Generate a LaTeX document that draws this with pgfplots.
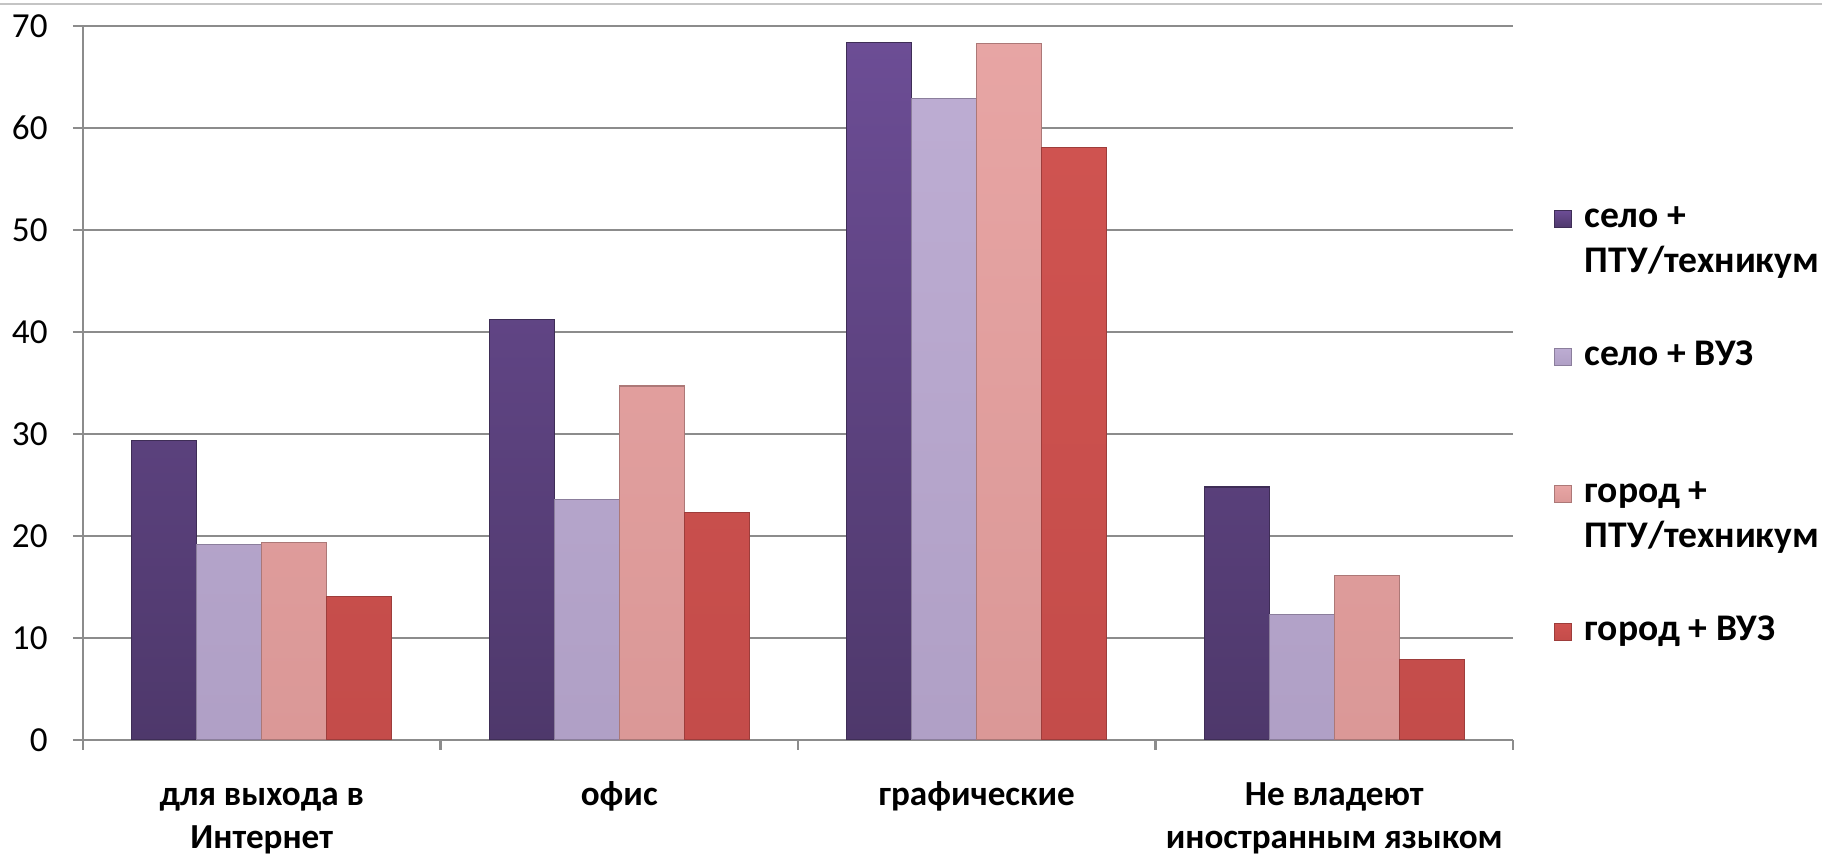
\documentclass[border=0pt]{standalone}
\usepackage{fontspec}
\setmainfont{Carlito}
\usepackage{pgfplots}
\pgfplotsset{compat=1.18}

\definecolor{pa}{HTML}{654A8C}
\definecolor{paT}{HTML}{6C4D95}
\definecolor{paB}{HTML}{4E386B}
\definecolor{pb}{HTML}{B9A8D0}
\definecolor{pc}{HTML}{E6A09F}
\definecolor{pd}{HTML}{CF5350}
\definecolor{pdB}{HTML}{C44C4A}
\definecolor{gridgray}{HTML}{8C8C8C}
\definecolor{topgray}{HTML}{C4C4C4}

\begin{document}
\begin{tikzpicture}
\begin{axis}[
    name=ax,
    scale only axis,
    width=143mm, height=71.4mm,
    ybar=0pt, bar width=0.182,
    xmin=-0.5, xmax=3.5,
    ymin=0, ymax=70,
    ytick={0,10,...,70},
    xtick={-0.5,0.5,1.5,2.5,3.5},
    x tick label as interval,
    xticklabels={
        {\begin{tabular}[t]{@{}c@{}}для выхода в\\Интернет\end{tabular}},
        {\begin{tabular}[t]{@{}c@{}}офис\end{tabular}},
        {\begin{tabular}[t]{@{}c@{}}графические\end{tabular}},
        {\begin{tabular}[t]{@{}c@{}}Не владеют\\иностранным языком\end{tabular}}},
    axis x line*=bottom, axis y line*=left,
    axis line style={-, draw=gridgray, line width=0.6pt},
    tick align=outside,
    major tick length=1mm,
    tick style={draw=gridgray, line width=0.6pt},
    ymajorgrids,
    major grid style={draw=gridgray, line width=0.6pt},
    /pgf/number format/assume math mode=true,
    yticklabel style={font=\fontsize{10}{12}\selectfont, xshift=-1.3mm},
    xticklabel style={font=\bfseries\fontsize{10}{12.2}\selectfont, yshift=-1.3mm},
    legend style={at={(axis description cs:1,1)}, anchor=north west,
        xshift=4.0mm, yshift=-16.95mm, draw=none, fill=none, inner sep=0pt,
        row sep=10.55mm, column sep=1.3mm,
        font=\bfseries\fontsize{10.7}{12.8}\selectfont,
        nodes={inner sep=0pt, text depth=0pt}, cells={anchor=base west}},
    legend image code/.code={\draw[#1] (0mm,0mm) rectangle (1.7mm,1.7mm);},
]
\addplot[draw=paB!80!black, line width=0.3pt, top color=paT, bottom color=paB]
    coordinates {(0,29.4) (1,41.2) (2,68.4) (3,24.8)};
\addplot[draw=pb!75!black, line width=0.3pt, top color=pb!95!white, bottom color=pb!95!black]
    coordinates {(0,19.2) (1,23.6) (2,62.9) (3,12.3)};
\addplot[draw=pc!75!black, line width=0.3pt, top color=pc!95!white, bottom color=pc!95!black]
    coordinates {(0,19.4) (1,34.7) (2,68.3) (3,16.1)};
\addplot[draw=pdB!80!black, line width=0.3pt, top color=pd, bottom color=pdB]
    coordinates {(0,14.1) (1,22.3) (2,58.1) (3,7.9)};
\addlegendentry{\begin{tabular}[t]{@{}l@{}}село +\\ПТУ/техникум\end{tabular}}
\addlegendentry{\begin{tabular}[t]{@{}l@{}}село + ВУЗ\end{tabular}}
\addlegendentry{\begin{tabular}[t]{@{}l@{}}город +\\ПТУ/техникум\end{tabular}}
\addlegendentry{\begin{tabular}[t]{@{}l@{}}город + ВУЗ\end{tabular}}
\end{axis}
\draw[topgray, line width=0.6pt] ([shift={(-8.3mm,2.2mm)}]ax.north west) -- ([shift={(30.9mm,2.2mm)}]ax.north east);
\pgfresetboundingbox
\path[use as bounding box] ([shift={(-8.3mm,-11.8mm)}]ax.south west) rectangle ([shift={(30.9mm,2.6mm)}]ax.north east);
\end{tikzpicture}
\end{document}
